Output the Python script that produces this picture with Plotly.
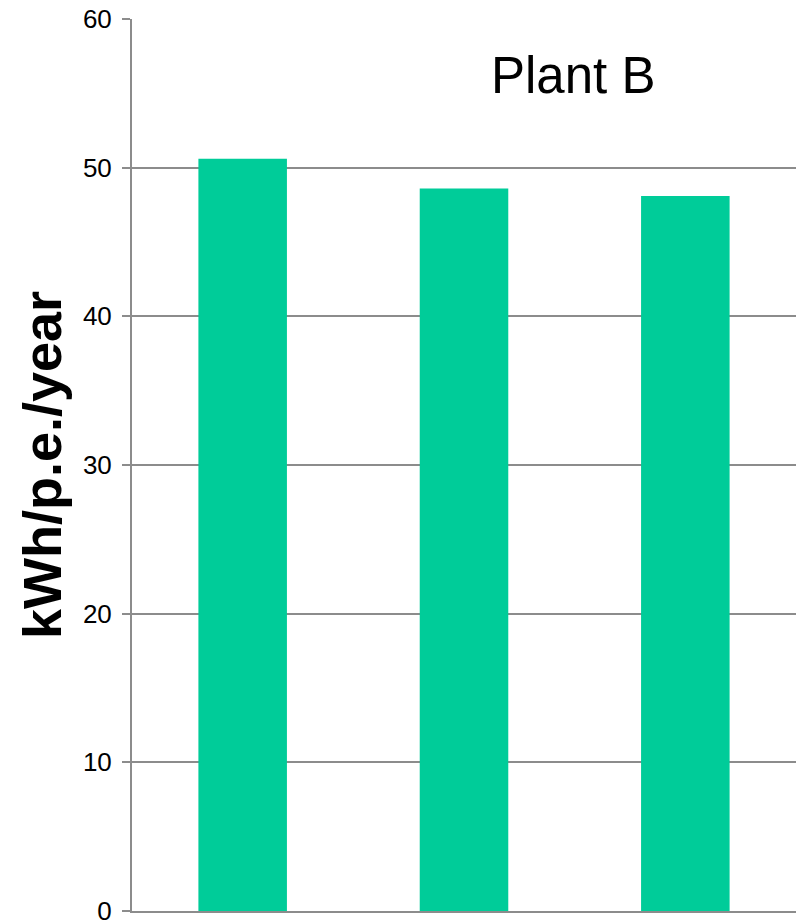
import plotly.graph_objects as go

categories = ["1", "2", "3"]
values = [50.6, 48.6, 48.1]
y_ticks = [0, 10, 20, 30, 40, 50, 60]
chart_title = "Plant B"
y_title = "kWh/p.e./year"

fig = go.Figure()
fig.add_trace(go.Bar(
    x=categories, y=values,
    marker=dict(color="#00CC99", line=dict(width=0)),
    width=0.4,
))

fig.update_layout(
    width=801, height=920,
    margin=dict(l=132, r=5, t=19, b=9, autoexpand=False),
    paper_bgcolor="white", plot_bgcolor="white",
    showlegend=False,
    font=dict(family="Liberation Sans, Arial, sans-serif", color="black"),
    annotations=[dict(
        text=chart_title, x=0.664, y=0.937, xref="paper", yref="paper",
        xanchor="center", yanchor="middle", showarrow=False,
        font=dict(size=51, color="black", family="Liberation Sans, Arial, sans-serif"),
    )],
)
fig.update_xaxes(
    showticklabels=False, showline=True, linecolor="#8c8c8c", linewidth=2,
    ticks="", showgrid=False, zeroline=False, automargin=False,
)
fig.update_yaxes(
    range=[0, 60], tickvals=y_ticks, ticktext=[str(v) for v in y_ticks],
    showline=True, linecolor="#8c8c8c", linewidth=2,
    ticks="outside", ticklen=8, tickcolor="#8c8c8c", tickwidth=2,
    showgrid=True, gridcolor="#8c8c8c", gridwidth=1.5, zeroline=False,
    tickfont=dict(size=26, color="black"),
    ticklabeloverflow="allow", ticklabelstandoff=5, automargin=False,
    title=dict(text="<b>" + y_title + "</b>", font=dict(size=54, color="black"), standoff=4),
)

fig.write_html("out.html")
